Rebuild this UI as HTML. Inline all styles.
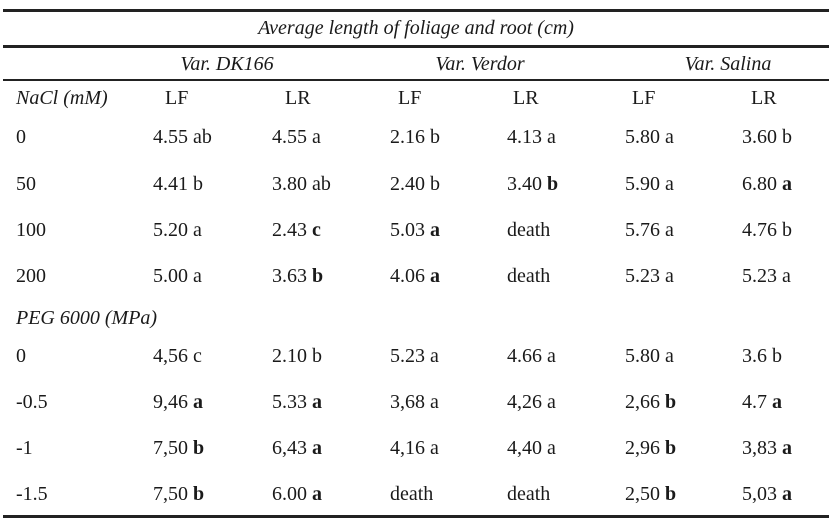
<!DOCTYPE html>
<html><head><meta charset="utf-8">
<style>
html,body{margin:0;padding:0;background:#fff;}
#t{position:relative;width:832px;height:521px;overflow:hidden;font-family:"Liberation Serif",serif;font-size:20px;color:#1a1a1a;}
.r{position:absolute;left:3px;width:826px;background:#222;}
.c{position:absolute;line-height:22px;white-space:nowrap;}
.i{font-style:italic;}
</style></head><body>
<div id="t">
<div class="r" style="top:9px;height:3px"></div>
<div class="r" style="top:45px;height:3px"></div>
<div class="r" style="top:79px;height:2px"></div>
<div class="r" style="top:515px;height:3px"></div>
<div class="c i" style="left:0;width:832px;text-align:center;top:17px">Average length of foliage and root (cm)</div>
<div class="c i" style="left:127px;width:200px;text-align:center;top:53px">Var. DK166</div>
<div class="c i" style="left:380px;width:200px;text-align:center;top:53px">Var. Verdor</div>
<div class="c i" style="left:628px;width:200px;text-align:center;top:53px">Var. Salina</div>
</div>
<script>
const rowLabels=["NaCl (mM)","0","50","100","200","PEG 6000 (MPa)","0","-0.5","-1","-1.5"];
const rowY=[98,137,184,230,276,318,356,402,448,494];
const colX=[153,272,390,507,625,742];
const headX=[165,285,398,513,632,751];
const cells=[
["LF","LR","LF","LR","LF","LR"],
["4.55 ab","4.55 a","2.16 b","4.13 a","5.80 a","3.60 b"],
["4.41 b","3.80 ab","2.40 b","3.40 <b>b</b>","5.90 a","6.80 <b>a</b>"],
["5.20 a","2.43 <b>c</b>","5.03 <b>a</b>","death","5.76 a","4.76 b"],
["5.00 a","3.63 <b>b</b>","4.06 <b>a</b>","death","5.23 a","5.23 a"],
null,
["4,56 c","2.10 b","5.23 a","4.66 a","5.80 a","3.6 b"],
["9,46 <b>a</b>","5.33 <b>a</b>","3,68 a","4,26 a","2,66 <b>b</b>","4.7 <b>a</b>"],
["7,50 <b>b</b>","6,43 <b>a</b>","4,16 a","4,40 a","2,96 <b>b</b>","3,83 <b>a</b>"],
["7,50 <b>b</b>","6.00 <b>a</b>","death","death","2,50 <b>b</b>","5,03 <b>a</b>"]
];
const t=document.getElementById('t');
rowLabels.forEach((l,i)=>{
  const d=document.createElement('div');
  d.className='c'+((i===0||i===5)?' i':'');
  d.style.left='16px';d.style.top=(rowY[i]-11)+'px';
  d.textContent=l;
  
  
  t.appendChild(d);
  if(cells[i]){
    cells[i].forEach((v,j)=>{
      const e=document.createElement('div');
      e.className='c';
      e.style.left=(i===0?headX[j]:colX[j])+'px';
      e.style.top=(rowY[i]-11)+'px';
      e.innerHTML=v;
      
      
      t.appendChild(e);
    });
  }
});
</script>
</body></html>
